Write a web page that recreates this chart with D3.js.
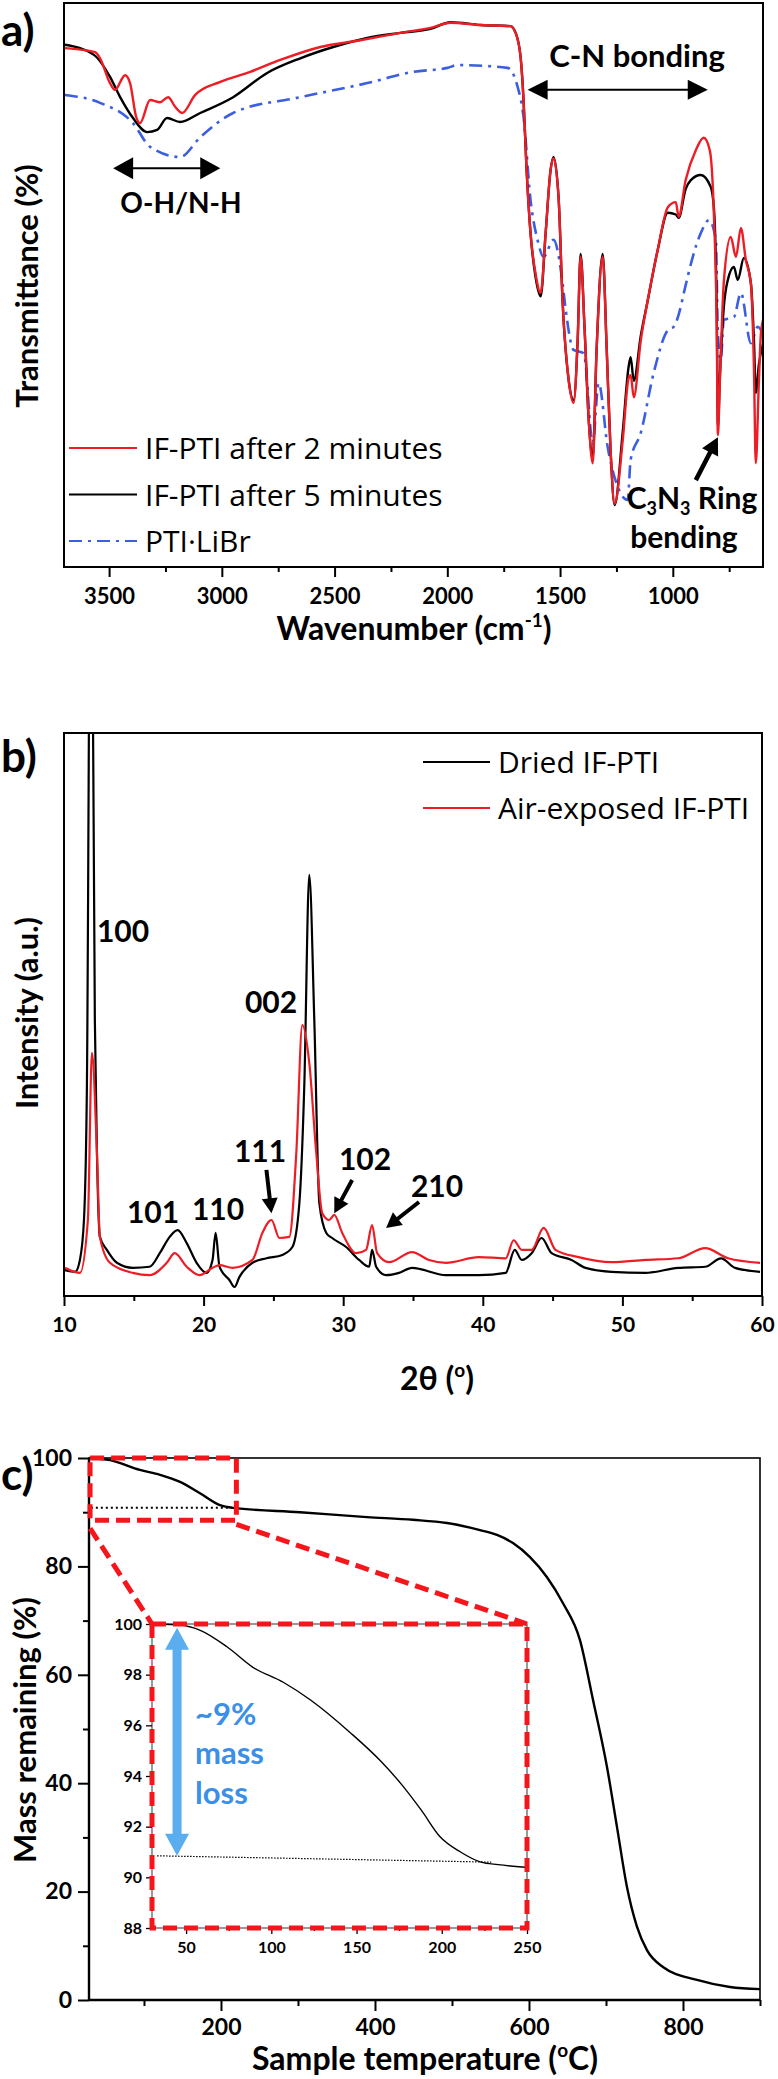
<!DOCTYPE html>
<html>
<head>
<meta charset="utf-8">
<script src="https://cdn.jsdelivr.net/npm/d3@7"></script>
<style>
body{margin:0;background:#fff}
svg text{font-family:Lato,"Open Sans",sans-serif;fill:#000}
.legend text{font-family:"Open Sans",Lato,sans-serif;font-weight:normal}
.bold{font-weight:bold}
</style>
</head>
<body>
<div id="chart"></div>
<script>
// ---------- panel a : FTIR ----------
var irTicks=[3500,3000,2500,2000,1500,1000],
	irMinor=[3250,2750,2250,1750,1250,750];

var ir2min=[[3696,92.0],[3562,91.3],[3540,90.2],[3496,85.8],[3474,84.6],[3429,87.2],[3407,85.8],[3380,79.8],[3363,78.7],
	[3318,82.8],[3274,82.4],[3238,83.3],[3207,81.6],[3176,80.5],[3118,83.7],[3007,86.0],[2874,87.8],[2741,89.9],[2563,92.2],
	[2386,93.4],[2208,94.7],[2075,95.6],[1986,96.5],[1853,96.1],[1720,95.9],[1697,94.7],[1675,90.4],[1662,82.8],[1649,70.9],
	[1631,59.2],[1609,52.1],[1586,48.6],[1564,59.2],[1542,70.4],[1529,72.5],[1506,65.1],[1489,47.3],[1462,33.2],[1440,29.1],
	[1422,40.2],[1409,55.0],[1391,42.0],[1373,26.1],[1355,18.4],[1338,38.5],[1311,55.0],[1293,38.5],[1276,20.7],[1258,11.2],
	[1222,22.5],[1196,33.5],[1187,34.0],[1173,30.1],[1142,40.2],[1111,47.3],[1067,56.2],[1022,63.8],[987,64.7],[974,62.1],
	[943,68.6],[898,73.9],[863,76.1],[836,73.9],[818,62.8],[805,42.0],[800,23.4],[791,33.2],[774,50.4],[743,58.5],[720,55.0],
	[698,60.1],[676,54.4],[654,50.4],[640,35.0],[632,18.4],[618,33.2],[609,41.5],[596,44.3]];

var ir5min=[[3696,92.6],[3567,90.8],[3496,86.9],[3451,83.3],[3394,79.6],[3331,77.1],[3287,77.5],[3243,79.6],[3185,78.9],
	[3096,80.5],[2950,83.3],[2799,87.6],[2652,90.2],[2506,92.2],[2355,93.8],[2208,94.7],[2075,95.4],[1986,96.6],[1853,96.1],
	[1720,95.9],[1697,94.7],[1675,90.4],[1662,82.8],[1649,70.9],[1631,59.2],[1609,51.5],[1586,48.0],[1564,59.2],[1542,70.4],
	[1529,72.7],[1506,65.1],[1489,47.3],[1462,33.2],[1440,29.6],[1422,40.2],[1409,55.5],[1391,42.0],[1373,26.1],[1355,19.5],
	[1338,38.5],[1311,55.5],[1293,38.5],[1276,20.7],[1258,11.0],[1222,24.0],[1196,35.5],[1187,37.2],[1173,33.0],[1142,41.0],
	[1111,47.3],[1067,56.2],[1022,62.8],[987,62.5],[974,61.9],[943,67.0],[920,68.6],[876,69.5],[832,67.4],[818,63.8],[805,45.0],
	[800,25.0],[791,34.0],[774,46.0],[756,50.9],[729,53.2],[712,50.9],[685,54.8],[654,50.4],[640,40.0],[632,30.9],[618,36.0],
	[596,40.2]];

var irLiBr=[[3696,83.7],[3540,82.3],[3394,78.7],[3318,74.5],[3185,72.7],[3096,76.2],[2950,80.5],[2652,83.3],[2355,85.8],
	[2150,87.8],[1999,88.5],[1955,89.0],[1733,88.5],[1688,85.1],[1662,79.8],[1631,65.1],[1600,58.0],[1573,55.0],[1529,58.0],
	[1489,50.4],[1475,45.6],[1440,38.5],[1395,37.9],[1355,22.0],[1329,32.6],[1289,21.3],[1244,14.2],[1200,11.9],[1187,19.0],
	[1142,23.8],[1085,34.4],[1022,42.0],[996,42.6],[965,46.1],[951,48.6],[876,59.2],[840,61.5],[809,58.0],[800,41.5],[787,36.7],
	[774,43.8],[729,44.3],[698,48.6],[654,39.7],[623,42.6],[596,40.8]];

var irNames=["IF-PTI after 2 minutes","IF-PTI after 5 minutes","PTI\u00b7LiBr"];

// ---------- panel b : XRD ----------
var xrdTicks=[10,20,30,40,50,60],
	xrdMinor=[15,25,35,45,55];

var xrdDried=[[10.07,4.6],[10.8,4.3],[11.14,6.4],[11.43,13.5],[11.64,37.1],[11.93,150],[12.21,49.0],[12.36,25.4],[12.57,10.5],
	[13.07,8.2],[13.79,5.9],[14.93,5.0],[16.14,5.2],[16.86,7.6],[17.57,10.5],[18.14,11.7],[18.79,9.4],[19.5,5.9],[20.21,4.1],
	[20.64,6.4],[20.86,11.2],[21.14,5.2],[21.86,2.8],[22.21,1.6],[22.57,3.4],[23.5,5.9],[24.5,6.7],[25.64,7.3],[26.36,8.7],
	[26.86,16.5],[27.21,37.1],[27.57,74.8],[27.93,49.0],[28.29,16.5],[28.79,11.2],[29.21,10.3],[30.21,8.7],[31.14,6.4],
	[31.86,5.2],[32.07,8.2],[32.36,5.2],[33.07,3.7],[34.0,4.1],[34.93,5.0],[37.36,3.7],[39.71,3.7],[41.64,4.1],[42.29,8.2],
	[42.79,6.4],[43.5,7.6],[44.21,10.3],[44.93,7.6],[46.36,6.4],[47.36,5.0],[49.21,4.3],[51.64,4.1],[54.0,5.0],[55.93,5.2],
	[57.07,6.7],[58.07,5.0],[59.86,4.3]];

var xrdAir=[[10.07,5.0],[11.14,4.1],[11.71,13.5],[12.0,43.2],[12.36,25.4],[12.57,10.5],[13.29,5.9],[14.93,4.1],[16.14,3.7],
	[17.36,5.9],[17.93,7.6],[18.79,5.2],[19.71,3.7],[20.64,5.0],[21.14,5.5],[22.07,5.0],[23.5,6.4],[24.21,11.2],[24.86,13.5],
	[25.43,10.3],[26.14,10.5],[26.64,25.4],[27.07,48.1],[27.57,41.4],[28.07,25.4],[28.5,14.7],[29.0,13.5],[29.36,14.4],
	[29.93,11.2],[30.93,7.6],[31.64,8.2],[32.07,12.6],[32.43,7.6],[33.29,6.0],[34.93,7.8],[36.14,6.4],[37.36,5.9],[39.71,6.9],
	[41.64,6.7],[42.21,9.9],[42.79,8.2],[43.5,8.2],[44.36,12.1],[45.21,8.2],[46.86,6.9],[49.21,6.0],[51.64,6.4],[54.0,6.7],
	[55.93,8.5],[57.57,6.7],[59.86,5.9]];

var xrdNames=["Dried IF-PTI","Air-exposed IF-PTI"];
var xrdPeaks=["100","101","110","111","002","102","210"];

// ---------- panel c : TGA ----------
var tgaXTicks=[200,400,600,800],
	tgaXMinor=[100,300,500,700,900],
	tgaYTicks=[0,20,40,60,80,100],
	tgaYMinor=[10,30,50,70,90];

var tgaMain=[[28.6,100],[55.8,99.6],[94.8,97.8],[120.8,96.9],[146.8,95.6],[172.7,93.5],[198.7,91.3],[215.6,90.8],
	[302.6,90.0],[389.6,89.1],[449.4,88.6],[493.5,88.0],[536.4,86.7],[558.5,85.8],[579.2,84.3],[601.3,81.7],[623.4,78.0],
	[644.2,73.2],[666.2,66.4],[683.1,55.4],[701.3,43.0],[714.3,31.9],[727.3,20.8],[740.3,13.5],[753.2,9.2],[774.0,6.1],
	[818.2,3.7],[861.0,2.4],[900,2.0]];
var tgaMainBase=[[31,90.8],[214,90.8]];

var insetXTicks=[50,100,150,200,250],
	insetXMinor=[75,125,175,225],
	insetYTicks=[88,90,92,94,96,98,100];

var tgaInset=[[33,100],[46.5,99.96],[58,99.76],[74,99.1],[89,98.3],[107,97.7],[123,97.0],[146.5,95.7],[164,94.6],
	[176,93.7],[188,92.65],[199,91.6],[211,91.0],[223,90.6],[233,90.5],[249,90.4]];
var tgaInsetBase=[[33,90.85],[229,90.6]];

var RED="#ee1d25", BLUE="#3c5ee0", ARROWBLUE="#5aaef0", TEXTBLUE="#3b8fe6", DASHRED="#f5161c";

var svg=d3.select("#chart").append("svg")
			.attr("width",778)
			.attr("height",2079);

// filled triangular head pointing from (x1,y1) toward (x2,y2)
function arrow(g,x1,y1,x2,y2,len,half,w,color,both){
	color=color||"#000";
	var dx=x2-x1, dy=y2-y1, L=Math.sqrt(dx*dx+dy*dy),
		ux=dx/L, uy=dy/L, nx=-uy, ny=ux;
	var sx=x1, sy=y1, ex=x2-ux*len*0.8, ey=y2-uy*len*0.8;
	if(both){ sx=x1+ux*len*0.8; sy=y1+uy*len*0.8; }
	g.append("line")
		.attr("x1",sx).attr("y1",sy).attr("x2",ex).attr("y2",ey)
		.style("stroke",color).style("stroke-width",w);
	function head(tx,ty,vx,vy){
		var bx=tx-vx*len, by=ty-vy*len;
		g.append("path")
			.attr("d","M"+tx+","+ty+"L"+(bx+nx*half)+","+(by+ny*half)+"L"+(bx-nx*half)+","+(by-ny*half)+"Z")
			.style("fill",color);
	}
	head(x2,y2,ux,uy);
	if(both) head(x1,y1,-ux,-uy);
}

function styleAxis(g,w,size){
	g.select(".domain").remove();
	g.selectAll(".tick line").style("stroke","#000").style("stroke-width",w);
	g.selectAll(".tick text").attr("class","bold").style("font-size",size+"px").style("fill","#000");
}

// ================= panel a =================
(function(){
	var L=64,R=763,T=3,B=567;
	var x=d3.scaleLinear().domain([3700,600]).range([L,R]),
		y=d3.scaleLinear().domain([0,100]).range([B,T]);
	var g=svg.append("g");

	g.append("clipPath").attr("id","clipA").append("rect")
		.attr("x",L).attr("y",T).attr("width",R-L).attr("height",B-T);

	var line=d3.line().x(function(d){return x(d[0]);}).y(function(d){return y(d[1]);}).curve(d3.curveMonotoneX);
	var curves=g.append("g").attr("clip-path","url(#clipA)");
	curves.append("path").attr("d",line(irLiBr)).style("fill","none").style("stroke",BLUE)
		.style("stroke-width",2.6).style("stroke-dasharray","13,6,3,6");
	curves.append("path").attr("d",line(ir5min)).style("fill","none").style("stroke","#000").style("stroke-width",2.4);
	curves.append("path").attr("d",line(ir2min)).style("fill","none").style("stroke",RED).style("stroke-width",2.4);

	g.append("rect").attr("x",L).attr("y",T).attr("width",R-L).attr("height",B-T)
		.style("fill","none").style("stroke","#000").style("stroke-width",2);

	var ax=g.append("g").attr("transform","translate(0,"+B+")")
		.call(d3.axisBottom(x).tickValues(irTicks).tickSize(10).tickPadding(11).tickFormat(d3.format("d")));
	styleAxis(ax,2,22);
	var axm=g.append("g").attr("transform","translate(0,"+B+")")
		.call(d3.axisBottom(x).tickValues(irMinor).tickSize(5).tickFormat(""));
	styleAxis(axm,2,22);

	var t=g.append("text").attr("class","bold").attr("x",414).attr("y",640)
		.attr("text-anchor","middle").style("font-size","32px");
	t.append("tspan").text("Wavenumber (cm");
	t.append("tspan").attr("dy",-13).style("font-size","19px").text("-1");
	t.append("tspan").attr("dy",13).text(")");

	g.append("text").attr("class","bold").attr("transform","translate(38,286) rotate(-90)")
		.attr("text-anchor","middle").style("font-size","31px").text("Transmittance (%)");

	g.append("text").attr("class","bold").attr("x",1).attr("y",46).style("font-size","44px").text("a)");

	// annotations
	arrow(g,x(3482),y(70.7),x(3007),y(70.7),20,11,2,"#000",true);
	g.append("text").attr("class","bold").attr("x",181).attr("y",213).attr("text-anchor","middle")
		.style("font-size","28px").text("O-H/N-H");
	arrow(g,x(1644),y(84.6),x(845),y(84.6),20,10,2,"#000",true);
	g.append("text").attr("class","bold").attr("x",637).attr("y",67).attr("text-anchor","middle")
		.style("font-size","31px").text("C-N bonding");
	arrow(g,x(898),y(15.4),x(800),y(23.0),17,9,4.5,"#000",false);
	var rt=g.append("text").attr("class","bold").attr("x",692).attr("y",509).attr("text-anchor","middle")
		.style("font-size","30px");
	rt.append("tspan").text("C");
	rt.append("tspan").attr("dy",6).style("font-size","18px").text("3");
	rt.append("tspan").attr("dy",-6).text("N");
	rt.append("tspan").attr("dy",6).style("font-size","18px").text("3");
	rt.append("tspan").attr("dy",-6).text(" Ring");
	g.append("text").attr("class","bold").attr("x",684).attr("y",548).attr("text-anchor","middle")
		.style("font-size","30px").text("bending");

	// legend
	var lg=g.append("g").attr("class","legend");
	var styles=[[RED,null],["#000",null],[BLUE,"13,6,3,6"]];
	irNames.forEach(function(n,i){
		var yy=448+i*46.5;
		lg.append("line").attr("x1",69).attr("x2",137).attr("y1",yy).attr("y2",yy)
			.style("stroke",styles[i][0]).style("stroke-width",2.2)
			.style("stroke-dasharray",styles[i][1]);
		lg.append("text").attr("x",145).attr("y",yy+11).style("font-size","30px").text(n);
	});
})();

// ================= panel b =================
(function(){
	var L=64,R=762,T=733,B=1296;
	var x=d3.scaleLinear().domain([10,60]).range([L,R]),
		y=d3.scaleLinear().domain([0,100]).range([B,T]);
	var g=svg.append("g");

	g.append("clipPath").attr("id","clipB").append("rect")
		.attr("x",L).attr("y",T).attr("width",R-L).attr("height",B-T);
	var line=d3.line().x(function(d){return x(d[0]);}).y(function(d){return y(d[1]);}).curve(d3.curveMonotoneX);
	var curves=g.append("g").attr("clip-path","url(#clipB)");
	curves.append("path").attr("d",line(xrdDried)).style("fill","none").style("stroke","#000").style("stroke-width",2.2);
	curves.append("path").attr("d",line(xrdAir)).style("fill","none").style("stroke",RED).style("stroke-width",2.2);

	g.append("rect").attr("x",L).attr("y",T).attr("width",R-L).attr("height",B-T)
		.style("fill","none").style("stroke","#000").style("stroke-width",2);

	var ax=g.append("g").attr("transform","translate(0,"+B+")")
		.call(d3.axisBottom(x).tickValues(xrdTicks).tickSize(10).tickPadding(11).tickFormat(d3.format("d")));
	styleAxis(ax,2,21);
	var axm=g.append("g").attr("transform","translate(0,"+B+")")
		.call(d3.axisBottom(x).tickValues(xrdMinor).tickSize(5).tickFormat(""));
	styleAxis(axm,2,21);

	var t=g.append("text").attr("class","bold").attr("x",437).attr("y",1390)
		.attr("text-anchor","middle").style("font-size","32px");
	t.append("tspan").text("2\u03b8 (");
	t.append("tspan").attr("dy",-13).style("font-size","19px").text("o");
	t.append("tspan").attr("dy",13).text(")");

	g.append("text").attr("class","bold").attr("transform","translate(38,1013) rotate(-90)")
		.attr("text-anchor","middle").style("font-size","31px").text("Intensity (a.u.)");

	g.append("text").attr("class","bold").attr("x",1).attr("y",772).style("font-size","44px").text("b)");

	// peak labels
	var pos=[[123,942],[153,1223],[218,1220],[260,1162],[271,1013],[365,1170],[437,1197]];
	xrdPeaks.forEach(function(p,i){
		g.append("text").attr("class","bold").attr("x",pos[i][0]).attr("y",pos[i][1])
			.attr("text-anchor","middle").style("font-size","30px").text(p);
	});
	arrow(g,x(24.5),y(22.4),x(24.86),y(14.7),15,8,4,"#000",false);
	arrow(g,x(30.64),y(20.6),x(29.36),y(14.7),15,8,4,"#000",false);
	arrow(g,x(35.43),y(16.7),x(33.07),y(12.1),15,8,4,"#000",false);

	// legend
	var lg=g.append("g").attr("class","legend");
	var cols=["#000",RED];
	xrdNames.forEach(function(n,i){
		var yy=762+i*46;
		lg.append("line").attr("x1",423).attr("x2",490).attr("y1",yy).attr("y2",yy)
			.style("stroke",cols[i]).style("stroke-width",2.2);
		lg.append("text").attr("x",498).attr("y",yy+11).style("font-size","30px").text(n);
	});
})();

// ================= panel c =================
(function(){
	var L=89,R=760,T=1458,B=2000;
	var x=d3.scaleLinear().domain([28.6,900]).range([L,R]),
		y=d3.scaleLinear().domain([0,100]).range([B,T]);
	var g=svg.append("g");

	var line=d3.line().x(function(d){return x(d[0]);}).y(function(d){return y(d[1]);}).curve(d3.curveMonotoneX);

	g.append("rect").attr("x",L).attr("y",T).attr("width",R-L).attr("height",B-T)
		.style("fill","none").style("stroke","#000").style("stroke-width",1.6);

	g.append("path").attr("d",line(tgaMain)).style("fill","none").style("stroke","#000").style("stroke-width",2.4);
	g.append("path").attr("d",line(tgaMainBase)).style("fill","none").style("stroke","#000")
		.style("stroke-width",2).style("stroke-dasharray","2,3");

	var ax=g.append("g").attr("transform","translate(0,"+B+")")
		.call(d3.axisBottom(x).tickValues(tgaXTicks).tickSize(11).tickPadding(8).tickFormat(d3.format("d")));
	styleAxis(ax,2,23);
	var axm=g.append("g").attr("transform","translate(0,"+B+")")
		.call(d3.axisBottom(x).tickValues(tgaXMinor).tickSize(6).tickFormat(""));
	styleAxis(axm,2,23);
	var ay=g.append("g").attr("transform","translate("+L+",0)")
		.call(d3.axisLeft(y).tickValues(tgaYTicks).tickSize(11).tickPadding(6).tickFormat(d3.format("d")));
	styleAxis(ay,2,23);
	var aym=g.append("g").attr("transform","translate("+L+",0)")
		.call(d3.axisLeft(y).tickValues(tgaYMinor).tickSize(6).tickFormat(""));
	styleAxis(aym,2,23);
	g.append("line").attr("x1",L).attr("x2",L).attr("y1",T).attr("y2",B).style("stroke","#000").style("stroke-width",2.4);
	g.append("line").attr("x1",L).attr("x2",R).attr("y1",B).attr("y2",B).style("stroke","#000").style("stroke-width",2.4);

	var t=g.append("text").attr("class","bold").attr("x",425).attr("y",2070)
		.attr("text-anchor","middle").style("font-size","32px");
	t.append("tspan").text("Sample temperature (");
	t.append("tspan").attr("dy",-13).style("font-size","19px").text("o");
	t.append("tspan").attr("dy",13).text("C)");

	g.append("text").attr("class","bold").attr("transform","translate(36,1730) rotate(-90)")
		.attr("text-anchor","middle").style("font-size","31px").text("Mass remaining (%)");

	g.append("text").attr("class","bold").attr("x",1).attr("y",1490).style("font-size","44px").text("c)");

	// inset
	var iL=152,iR=527,iT=1624,iB=1928;
	var xi=d3.scaleLinear().domain([30,250]).range([iL,iR]),
		yi=d3.scaleLinear().domain([88,100]).range([iB,iT]);
	var ig=g.append("g");
	ig.append("rect").attr("x",iL).attr("y",iT).attr("width",iR-iL).attr("height",iB-iT)
		.style("fill","#fff").style("stroke","#555").style("stroke-width",1.2);
	var iline=d3.line().x(function(d){return xi(d[0]);}).y(function(d){return yi(d[1]);}).curve(d3.curveMonotoneX);
	ig.append("path").attr("d",iline(tgaInset)).style("fill","none").style("stroke","#000").style("stroke-width",1.4);
	ig.append("path").attr("d",iline(tgaInsetBase)).style("fill","none").style("stroke","#000")
		.style("stroke-width",1.2).style("stroke-dasharray","1.5,1.5");

	var iax=ig.append("g").attr("transform","translate(0,"+iB+")")
		.call(d3.axisBottom(xi).tickValues(insetXTicks).tickSize(6).tickPadding(8).tickFormat(d3.format("d")));
	styleAxis(iax,1.3,16);
	var iaxm=ig.append("g").attr("transform","translate(0,"+iB+")")
		.call(d3.axisBottom(xi).tickValues(insetXMinor).tickSize(3).tickFormat(""));
	styleAxis(iaxm,1.3,16);
	var iay=ig.append("g").attr("transform","translate("+iL+",0)")
		.call(d3.axisLeft(yi).tickValues(insetYTicks).tickSize(6).tickPadding(4).tickFormat(d3.format("d")));
	styleAxis(iay,1.3,16);

	// zoom boxes
	var dash={"stroke":DASHRED,"stroke-width":5,"stroke-dasharray":"14,7","fill":"none"};
	function dashed(sel){ for(var k in dash) sel.style(k,dash[k]); return sel; }
	var bx0=x(30), bx1=x(220), by0=y(100), by1=y(88.5);
	dashed(g.append("rect").attr("x",bx0).attr("y",by0).attr("width",bx1-bx0).attr("height",by1-by0));
	dashed(g.append("line").attr("x1",bx0).attr("y1",by1+8).attr("x2",iL).attr("y2",iT));
	dashed(g.append("line").attr("x1",bx1).attr("y1",by1+4).attr("x2",iR).attr("y2",iT));
	dashed(g.append("rect").attr("x",iL).attr("y",iT).attr("width",iR-iL).attr("height",iB-iT));

	// blue double arrow and text
	arrow(g,xi(44.7),yi(99.85),xi(44.7),yi(90.85),22,12,9,ARROWBLUE,true);
	var bt=g.append("text").attr("class","bold").style("font-size","31px").style("fill",TEXTBLUE);
	[["~9%",1725],["mass",1764],["loss",1804]].forEach(function(r){
		bt.append("tspan").attr("x",195).attr("y",r[1]).text(r[0]);
	});
})();
</script>
</body>
</html>
